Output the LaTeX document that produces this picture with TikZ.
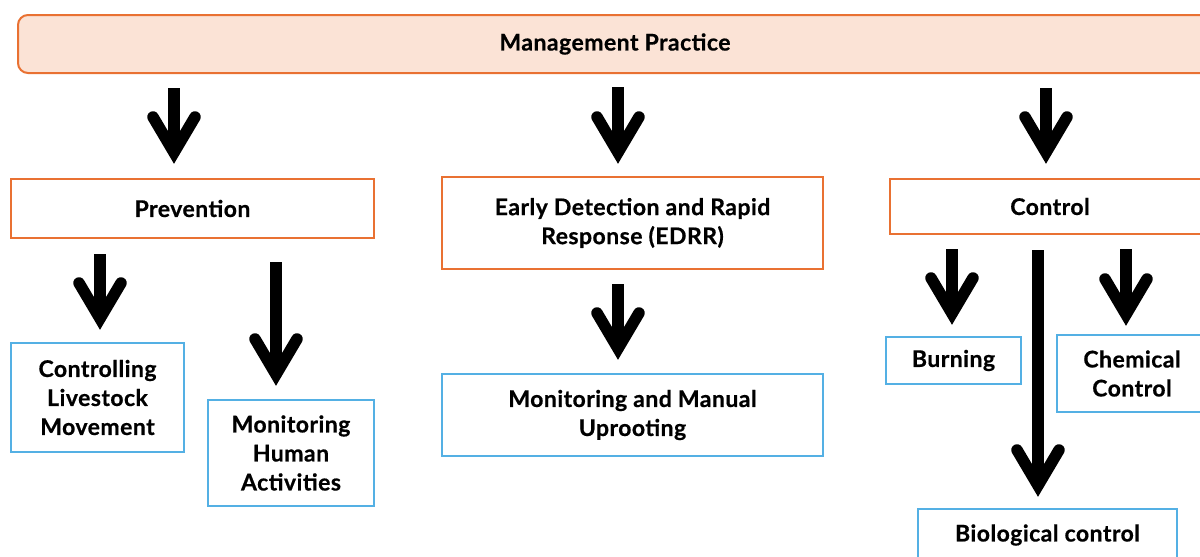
\documentclass[tikz,border=0pt]{standalone}
\usepackage{fontspec}
\setmainfont{Lato}[BoldFeatures={FakeBold=0.6,LetterSpace=2}]
\usetikzlibrary{calc}
\definecolor{orng}{HTML}{E97132}
\definecolor{peach}{HTML}{FBE3D6}
\definecolor{skyb}{HTML}{54B0E4}
\tikzset{
  box/.style={draw, line width=2pt, anchor=north west, inner sep=0pt, align=center,
    font=\fontsize{23}{29}\selectfont\bfseries, text=black},
  obox/.style={box, draw=orng, fill=white},
  bbox/.style={box, draw=skyb, fill=white},
  shaftline/.style={line width=11.5pt, line cap=butt, draw=black},
  headline/.style={line width=11.5pt, line cap=round, line join=miter, draw=black},
}
\newcommand\fatarrow[2]{%
  \draw[shaftline] (#1) -- ($(#2)+(0,-11.5)$);
  \draw[headline] ($(#2)+(-21,-47)$) -- ($(#2)+(0,-11.5)$) -- ($(#2)+(21,-47)$);
}
\begin{document}
\begin{tikzpicture}[x=1pt,y=-1pt]
\useasboundingbox (0,0) rectangle (1200,557);
\clip (0,0) rectangle (1200,557);
\fill[white] (0,0) rectangle (1200,557);

\node[box, draw=orng, fill=peach, rounded corners=10pt, minimum width=1194, minimum height=58] (mp) at (17,14) {Management Practice};

\node[obox, minimum width=363, minimum height=59] (prev) at (10,178) {Prevention};
\node[obox, minimum width=381, minimum height=92] (edrr) at (441,176) {Early Detection and Rapid\\Response (EDRR)};
\node[obox, minimum width=320, minimum height=55] (ctrl) at (889,178) {Control};

\node[bbox, minimum width=173, minimum height=109] (clm) at (10,342) {Controlling\\Livestock\\Movement};
\node[bbox, minimum width=166, minimum height=106] (mha) at (207,399) {Monitoring\\Human\\Activities};
\node[bbox, minimum width=381, minimum height=82] (mmu) at (441,373) {Monitoring and Manual\\Uprooting};
\node[bbox, minimum width=135, minimum height=47] (burn) at (885,336) {Burning};
\node[bbox, minimum width=150, minimum height=77] (chem) at (1056,334) {Chemical\\Control};
\node[bbox, minimum width=259, minimum height=52] (bio) at (917,508) {Biological control};

\coordinate (a1s) at (174,88);  \coordinate (a1e) at (174,164);
\coordinate (a2s) at (618,87);  \coordinate (a2e) at (618,164);
\coordinate (a3s) at (1046,88); \coordinate (a3e) at (1046,164);
\coordinate (a4s) at (618,284); \coordinate (a4e) at (618,360);
\coordinate (a5s) at (100,254); \coordinate (a5e) at (100,330);
\coordinate (a6s) at (276,262); \coordinate (a6e) at (276,386);
\coordinate (a7s) at (952,249); \coordinate (a7e) at (952,325);
\coordinate (a8s) at (1038,250); \coordinate (a8e) at (1038,497);
\coordinate (a9s) at (1126,249); \coordinate (a9e) at (1126,326);

\fatarrow{a1s}{a1e}
\fatarrow{a2s}{a2e}
\fatarrow{a3s}{a3e}
\fatarrow{a4s}{a4e}
\fatarrow{a5s}{a5e}
\fatarrow{a6s}{a6e}
\fatarrow{a7s}{a7e}
\fatarrow{a8s}{a8e}
\fatarrow{a9s}{a9e}
\end{tikzpicture}
\end{document}
